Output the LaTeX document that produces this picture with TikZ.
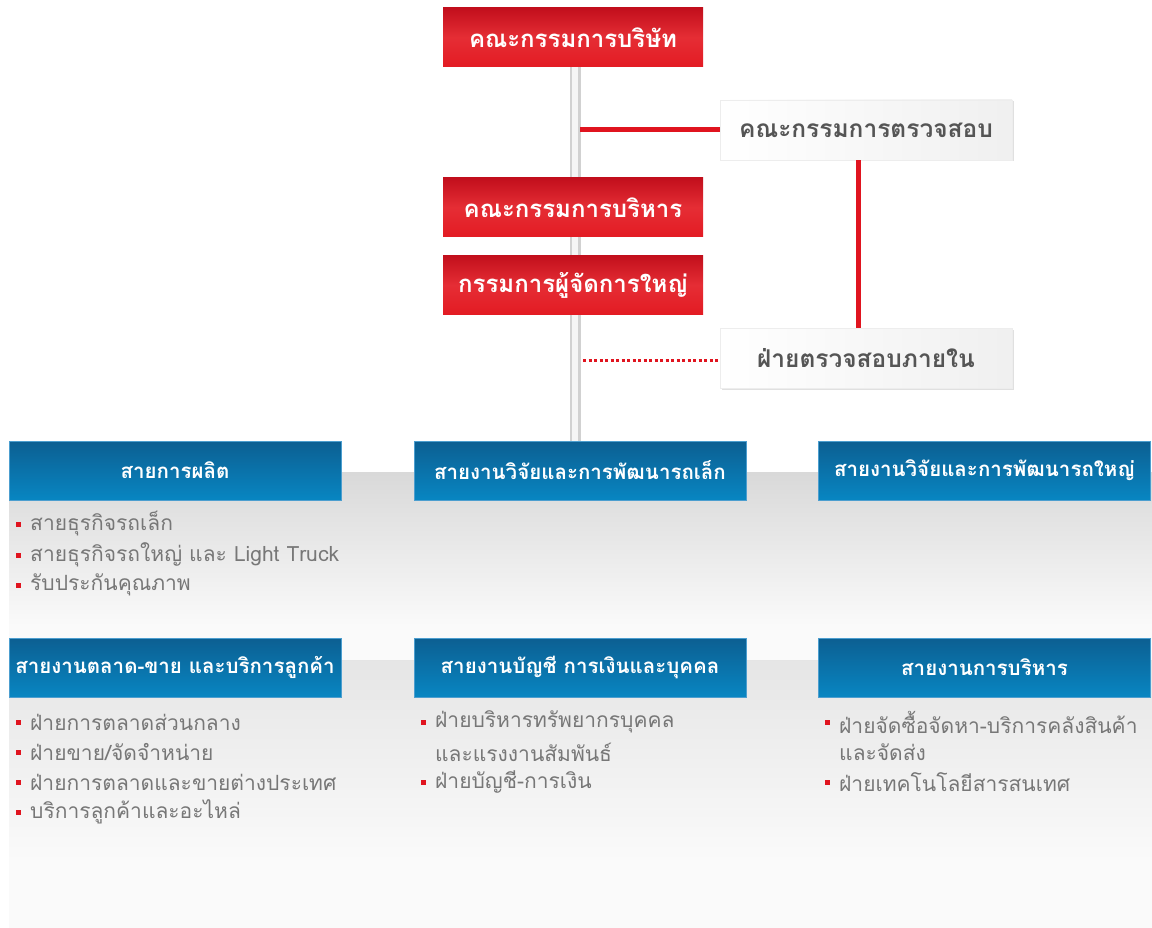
\documentclass[tikz,border=0pt]{standalone}
\usepackage{fontspec}
\newfontfamily\thaib[Script=Thai]{Loma}
\newfontfamily\thair[Script=Thai]{Loma}
\usetikzlibrary{shadows}
\definecolor{redA}{HTML}{C20F1C}
\definecolor{redB}{HTML}{E31B23}
\definecolor{blueA}{HTML}{0C5F92}
\definecolor{blueB}{HTML}{0886C2}
\definecolor{blueEdge}{HTML}{4C9ECF}
\definecolor{lineRed}{HTML}{E0141F}
\definecolor{txtGrey}{HTML}{777777}
\definecolor{boxTxt}{HTML}{555555}
\tikzset{
  redbox/.style={rectangle, minimum width=260pt, minimum height=59pt, top color=redA, bottom color=redB, middle color=redB!92!white, text=white, font=\thaib\bfseries\fontsize{24}{28}\selectfont, inner sep=0pt},
  whitebox/.style={rectangle, minimum width=292pt, minimum height=60pt, left color=white, right color=black!6, draw=black!7, line width=0.8pt, text=boxTxt, font=\thaib\bfseries\fontsize{24.5}{28}\selectfont, inner sep=0pt, drop shadow={shadow xshift=1.5pt, shadow yshift=-1.5pt, opacity=0.12, fill=black}},
  bluehead/.style={rectangle, minimum width=332pt, minimum height=59pt, top color=blueA, bottom color=blueB, draw=blueEdge, line width=0.8pt, text=white, font=\thaib\bfseries\fontsize{20.5}{24}\selectfont, inner sep=0pt},
  itemtxt/.style={anchor=west, inner sep=0pt, text=txtGrey, font=\thair\fontsize{21}{25}\selectfont},
  bulletsq/.style={rectangle, fill=lineRed, minimum width=5pt, minimum height=5pt, inner sep=0pt},
  redline/.style={draw=lineRed, line width=5pt},
  reddots/.style={draw=lineRed, line width=3pt, dash pattern=on 3pt off 2.5pt}
}
\begin{document}
\begin{tikzpicture}[x=1pt,y=-1pt]
\useasboundingbox (0,0) rectangle (1152,928);
% background panels
\fill[black!2] (9,472) rectangle (1152,928);
\shade[top color=black!15, bottom color=black!2] (9,472) rectangle (1152,625);
\shade[top color=black!10, bottom color=black!2] (9,660) rectangle (1152,860);

% spine (drawn first, under the boxes)
\coordinate (spine) at (575,0);
\draw[line width=11pt, black!18] (spine |- 0,67) -- (spine |- 0,441);
\draw[line width=6pt, black!4] (spine |- 0,67) -- (spine |- 0,441);

% top nodes
\node[redbox] (board) at (573,37.5) {คณะกรรมการบริษัท};
\node[redbox] (exec) at (573,207.5) {คณะกรรมการบริหาร};
\node[redbox] (md) at (573,285) {กรรมการผู้จัดการใหญ่};
\node[whitebox] (audit) at (866,130) {คณะกรรมการตรวจสอบ};
\node[whitebox] (internal) at (866,358) {ฝ่ายตรวจสอบภายใน};

% row 1 headers
\node[bluehead] (h1) at (175,470.5) {สายการผลิต};
\node[bluehead] (h2) at (580,470.5) {สายงานวิจัยและการพัฒนารถเล็ก};
\node[bluehead] (h3) at (984.5,470.5) {สายงานวิจัยและการพัฒนารถใหญ่};
% row 2 headers
\node[bluehead] (h4) at (175,667.5) {สายงานตลาด-ขาย และบริการลูกค้า};
\node[bluehead] (h5) at (580,667.5) {สายงานบัญชี การเงินและบุคคล};
\node[bluehead] (h6) at (984.5,667.5) {สายงานการบริหาร};

% connectors
\coordinate (j1) at (580,130);
\coordinate (j2) at (583,360);
\coordinate (v) at (858,0);
\draw[redline] (j1) -- (audit.west);
\draw[redline] (v |- audit.south) -- (v |- internal.north);
\draw[reddots] (j2) -- (internal.west |- j2);

% lists row 1
\foreach \n/\y/\t in {a1/524/{สายธุรกิจรถเล็ก}, a2/555/{สายธุรกิจรถใหญ่ และ Light Truck}, a3/585/{รับประกันคุณภาพ}}{
  \node[bulletsq] (b\n) at (18.5,\y) {};
  \node[itemtxt] (t\n) at (30,\y) {\t};
}
% lists row 2 left
\foreach \n/\y/\t in {c1/722/{ฝ่ายการตลาดส่วนกลาง}, c2/752/{ฝ่ายขาย/จัดจำหน่าย}, c3/782/{ฝ่ายการตลาดและขายต่างประเทศ}, c4/812/{บริการลูกค้าและอะไหล่}}{
  \node[bulletsq] (b\n) at (18.5,\y) {};
  \node[itemtxt] (t\n) at (30,\y) {\t};
}
% lists row 2 middle
\node[bulletsq] (bd1) at (423.5,722) {};
\node[itemtxt] (td1) at (435,722) {ฝ่ายบริหารทรัพยากรบุคคล};
\node[itemtxt] (td1b) at (435,752) {และแรงงานสัมพันธ์};
\node[bulletsq] (bd2) at (423.5,782) {};
\node[itemtxt] (td2) at (435,782) {ฝ่ายบัญชี-การเงิน};
% lists row 2 right
\node[bulletsq] (be1) at (827.5,722) {};
\node[itemtxt] (te1) at (839,722) {ฝ่ายจัดซื้อจัดหา-บริการคลังสินค้า};
\node[itemtxt] (te1b) at (839,752) {และจัดส่ง};
\node[bulletsq] (be2) at (827.5,782) {};
\node[itemtxt] (te2) at (839,782) {ฝ่ายเทคโนโลยีสารสนเทศ};
\end{tikzpicture}
\end{document}
